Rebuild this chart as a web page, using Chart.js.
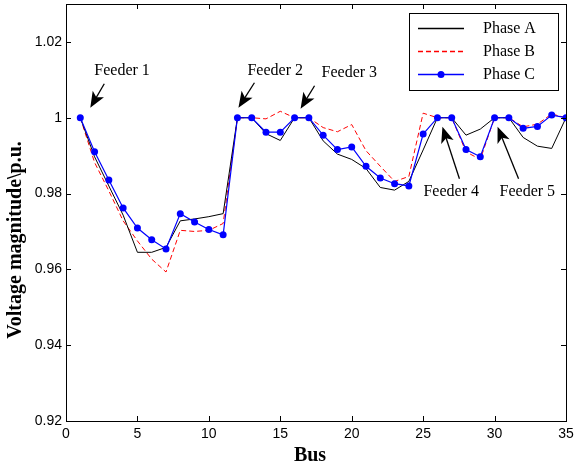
<!DOCTYPE html>
<html>
<head>
<meta charset="utf-8">
<script src="https://cdn.jsdelivr.net/npm/chart.js@4.4.1/dist/chart.umd.min.js"></script>
<style>
  html, body { margin: 0; padding: 0; background: #fff; }
</style>
</head>
<body>
<canvas id="voltageChart" width="574" height="468"></canvas>
<script>
// bus voltage per phase
const buses = [1, 2, 3, 4, 5, 6, 7, 8, 9, 10, 11, 12, 13, 14, 15, 16, 17, 18,
  19, 20, 21, 22, 23, 24, 25, 26, 27, 28, 29, 30, 31, 32, 33, 34, 35];
const phaseA = [1.000, 0.9897, 0.9820, 0.9743, 0.9645, 0.9645, 0.9658, 0.9728, 0.9733, 0.9739, 0.9747,
  1.000, 1.000, 0.9958, 0.9940, 1.000, 1.000, 0.9939, 0.9904, 0.9890, 0.9866, 0.9816, 0.9809,
  0.9832, 0.9915, 1.000, 1.000, 0.9954, 0.9970, 1.000, 1.000, 0.9948, 0.9925, 0.9919, 1.000];
const phaseB = [1.000, 0.9882, 0.9807, 0.9728, 0.9675, 0.9627, 0.9593, 0.9703, 0.9700, 0.9703, 0.9721,
  1.000, 1.000, 0.9997, 1.0017, 1.000, 1.000, 0.9974, 0.9963, 0.9982, 0.9913, 0.9872, 0.9832,
  0.9845, 1.0012, 1.000, 1.000, 0.9910, 0.9890, 1.000, 1.000, 0.9976, 0.9983, 1.0010, 1.000];
const phaseC = [1.000, 0.9910, 0.9836, 0.9762, 0.9709, 0.9678, 0.9654, 0.9747, 0.9725, 0.9705, 0.9691,
  1.000, 1.000, 0.9962, 0.9962, 1.000, 1.000, 0.9954, 0.9916, 0.9923, 0.9872, 0.9841, 0.9826,
  0.9820, 0.9957, 1.000, 1.000, 0.9916, 0.9897, 1.000, 1.000, 0.9972, 0.9977, 1.0007, 1.000];

const xTicks = [0, 5, 10, 15, 20, 25, 30, 35];
const yTicks = [0.92, 0.94, 0.96, 0.98, 1, 1.02];
const yTickLabels = ['0.92', '0.94', '0.96', '0.98', '1', '1.02'];

const feederNames = ['Feeder 1', 'Feeder 2', 'Feeder 3', 'Feeder 4', 'Feeder 5'];
const feederBuses = [1, 12, 16, 26, 30];

// line styles per phase (used by the datasets and the legend box)
const phaseStyles = [
  { label: 'Phase A', color: '#000000', dash: [], width: 1, dot: 0 },
  { label: 'Phase B', color: '#ff0000', dash: [5, 3], width: 1, dot: 0 },
  { label: 'Phase C', color: '#0000ff', dash: [], width: 1.2, dot: 3.5 },
];

// arrow geometry, pixel offsets from the feeder's bus point
const arrowOffsets = [
  { tip: [10, -10], tail: [24, -34], text: [14, -47] },
  { tip: [1, -10], tail: [17, -35], text: [10, -47] },
  { tip: [6, -9], tail: [20, -32], text: [27, -45] },
  { tip: [5, 9], tail: [22, 61], text: [-14, 74] },
  { tip: [3, 9], tail: [24, 61], text: [5, 74] },
];

const serif = '"Liberation Serif", "Times New Roman", serif';

function toPoints(vals) {
  return buses.map((b, i) => ({ x: b, y: vals[i] }));
}

function drawArrow(ctx, x0, y0, x1, y1) {
  const ang = Math.atan2(y1 - y0, x1 - x0);
  const len = 16, half = 6.5, notch = 4;
  ctx.lineWidth = 1.3;
  ctx.beginPath();
  ctx.moveTo(x0, y0);
  ctx.lineTo(x1 - Math.cos(ang) * 10, y1 - Math.sin(ang) * 10);
  ctx.stroke();
  ctx.save();
  ctx.translate(x1, y1);
  ctx.rotate(ang);
  ctx.beginPath();
  ctx.moveTo(0, 0);
  ctx.lineTo(-len, -half);
  ctx.lineTo(-len + notch, 0);
  ctx.lineTo(-len, half);
  ctx.closePath();
  ctx.fill();
  ctx.restore();
}

const decorations = {
  id: 'decorations',
  afterDraw(chart) {
    const { ctx, chartArea: a, scales: { x, y } } = chart;
    ctx.save();
    ctx.strokeStyle = '#000';
    ctx.fillStyle = '#000';
    ctx.lineWidth = 1;

    // box and inward ticks on all sides
    ctx.strokeRect(a.left + 0.5, a.top + 0.5, a.right - a.left, a.bottom - a.top);
    ctx.beginPath();
    xTicks.forEach(v => {
      const px = Math.round(x.getPixelForValue(v)) + 0.5;
      ctx.moveTo(px, a.bottom); ctx.lineTo(px, a.bottom - 5);
      ctx.moveTo(px, a.top); ctx.lineTo(px, a.top + 5);
    });
    yTicks.forEach(v => {
      const py = Math.round(y.getPixelForValue(v)) + 0.5;
      ctx.moveTo(a.left, py); ctx.lineTo(a.left + 5, py);
      ctx.moveTo(a.right, py); ctx.lineTo(a.right - 5, py);
    });
    ctx.stroke();

    // feeder arrows
    ctx.font = '16px ' + serif;
    ctx.textBaseline = 'middle';
    ctx.textAlign = 'left';
    feederBuses.forEach((b, i) => {
      const px = x.getPixelForValue(b);
      const py = y.getPixelForValue(phaseC[buses.indexOf(b)]);
      const o = arrowOffsets[i];
      drawArrow(ctx, px + o.tail[0], py + o.tail[1], px + o.tip[0], py + o.tip[1]);
      ctx.fillText(feederNames[i], px + o.text[0], py + o.text[1]);
    });

    // legend box
    const lx = 409, ly = 13, lw = 149, lh = 77;
    ctx.lineWidth = 1;
    ctx.fillStyle = '#fff';
    ctx.fillRect(lx, ly, lw, lh);
    ctx.strokeStyle = '#000';
    ctx.strokeRect(lx + 0.5, ly + 0.5, lw, lh);
    phaseStyles.forEach((st, i) => {
      const ry = ly + 15 + i * 23;
      ctx.save();
      ctx.strokeStyle = st.color;
      ctx.lineWidth = 1.4;
      ctx.setLineDash(st.dash);
      ctx.beginPath();
      ctx.moveTo(418, ry + 0.5);
      ctx.lineTo(464, ry + 0.5);
      ctx.stroke();
      ctx.restore();
      if (st.dot > 0) {
        ctx.fillStyle = st.color;
        ctx.beginPath();
        ctx.arc(441, ry + 0.5, st.dot, 0, Math.PI * 2);
        ctx.fill();
      }
      ctx.fillStyle = '#000';
      ctx.font = '16px ' + serif;
      ctx.fillText(st.label, 483, ry + 1);
    });

    // axis titles
    ctx.fillStyle = '#000';
    ctx.font = 'bold 20px ' + serif;
    ctx.textAlign = 'center';
    ctx.fillText('Bus', 310, 456);
    ctx.translate(16, 240);
    ctx.rotate(-Math.PI / 2);
    ctx.fillText('Voltage magnitude\\p.u.', 0, 0);
    ctx.restore();
  }
};

Chart.defaults.font.family = '"Liberation Sans", Arial, sans-serif';
Chart.defaults.font.size = 14;
Chart.defaults.color = '#000';

const seriesValues = [phaseA, phaseB, phaseC];
const drawOrder = [1, 2, 0];

new Chart(document.getElementById('voltageChart'), {
  type: 'line',
  data: {
    datasets: phaseStyles.map((st, i) => ({
      label: st.label,
      data: toPoints(seriesValues[i]),
      borderColor: st.color,
      backgroundColor: st.color,
      pointBackgroundColor: st.color,
      pointBorderWidth: 0,
      borderWidth: st.width,
      borderDash: st.dash,
      pointRadius: st.dot,
      order: drawOrder[i],
    })),
  },
  options: {
    responsive: false,
    animation: false,
    devicePixelRatio: 1,
    layout: { padding: { top: 4, right: 8, left: 0, bottom: 0 } },
    plugins: { legend: { display: false }, tooltip: { enabled: false } },
    scales: {
      x: {
        type: 'linear',
        min: 0,
        max: 35,
        grid: { display: false, drawTicks: false },
        border: { display: false },
        ticks: { padding: 5, maxRotation: 0 },
        afterBuildTicks: s => { s.ticks = xTicks.map(v => ({ value: v })); },
        afterFit: s => { s.height = 47; s.paddingLeft = 0; s.paddingRight = 0; },
      },
      y: {
        min: 0.92,
        max: 1.03,
        grid: { display: false, drawTicks: false },
        border: { display: false },
        ticks: { padding: 4, callback: (v, i) => yTickLabels[i] },
        afterBuildTicks: s => { s.ticks = yTicks.map(v => ({ value: v })); },
        afterFit: s => { s.width = 66; s.paddingTop = 0; s.paddingBottom = 0; },
      },
    },
  },
  plugins: [decorations],
});
</script>
</body>
</html>
